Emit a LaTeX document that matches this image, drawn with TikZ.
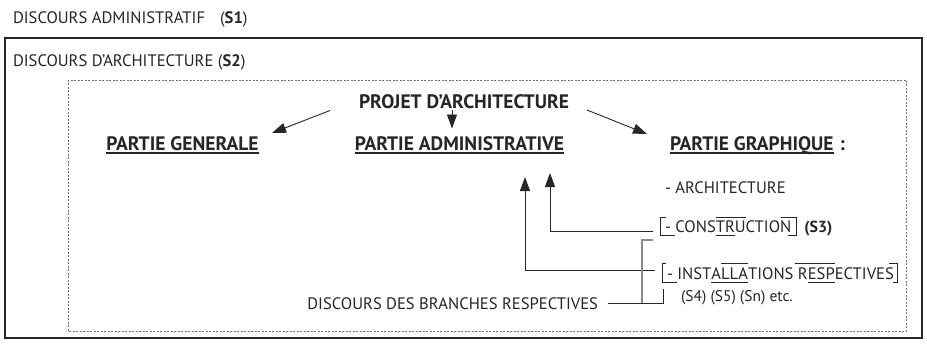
\documentclass[tikz,border=0pt]{standalone}
\usepackage{fontspec}
\setmainfont{PT Sans}
\usetikzlibrary{arrows.meta,calc}
\definecolor{ink}{HTML}{262626}
\definecolor{lgray}{HTML}{8A8A8A}
\definecolor{dgray}{HTML}{6E6E6E}
\begin{document}
\begin{tikzpicture}[x=1pt,y=-1pt,
  txt/.style={inner sep=0pt, outer sep=0pt, text=ink, font=\fontsize{16.6}{19}\selectfont},
  txtb/.style={inner sep=0pt, outer sep=0pt, text=ink, font=\fontsize{16}{19}\selectfont\bfseries},
  hd/.style={inner sep=0pt, outer sep=0pt, text=ink, font=\fontsize{19.5}{22}\selectfont\bfseries},
  small/.style={inner sep=0pt, outer sep=0pt, text=ink, font=\fontsize{15.5}{18}\selectfont},
  arr/.style={draw=ink, line width=0.9pt, -{Triangle[length=14pt,width=10pt]}},
  conn/.style={draw=ink, line width=0.9pt},
  branch/.style={draw=lgray, line width=1.1pt},
  brk/.style={draw=ink, line width=0.8pt},
  ul/.style={draw=ink, line width=1.5pt},
  outerbox/.style={draw=ink, line width=1.6pt},
  dotbox/.style={draw=dgray, line width=0.7pt, dash pattern=on 2pt off 1.5pt},
]
\fill[white] (0,0) rectangle (927,345);
\useasboundingbox (0,0) rectangle (927,345);

% frames
\node[txt, anchor=base west] (s1) at (13,23.3) {DISCOURS ADMINISTRATIF\hspace{15pt}(\textbf{S1})};
\draw[outerbox] (5,38) rectangle (922,338);
\node[txt, anchor=base west] (s2) at (13,66.5) {DISCOURS D’ARCHITECTURE (\textbf{S2})};
\draw[dotbox] (68,80) rectangle (906,331);

% headings
\node[hd, anchor=base] (projet) at (464,108.5) {PROJET D’ARCHITECTURE};
\node[hd, anchor=base] (gen) at (182.5,150) {PARTIE GENERALE};
\node[hd, anchor=base] (adm) at (459.5,150) {PARTIE ADMINISTRATIVE};
\node[hd, anchor=base west] (graph) at (670,150) {PARTIE GRAPHIQUE};
\node[hd, anchor=base west] (colon) at ([xshift=6pt]graph.base east) {:};
\foreach \n in {gen,adm,graph}
  \draw[ul] ([yshift=-3pt]\n.base west) -- ([yshift=-3pt]\n.base east);

% arrows from the project
\coordinate (a1s) at (330,110.5); \coordinate (a1e) at (272,133);
\coordinate (a2s) at (452,110);   \coordinate (a2e) at (452,128.5);
\coordinate (a3s) at (587,110);   \coordinate (a3e) at (647,134);
\draw[arr] (a1s) -- (a1e);
\draw[arr] (a2s) -- (a2e);
\draw[arr] (a3s) -- (a3e);

% graphic part list
\node[txt, anchor=base west] (archi) at (665,193.5) {- ARCHITECTURE};

% CONSTRUCTION
\node[txt, anchor=base west] (c1) at (665,232) {- CONS};
\node[txt, anchor=base west] (c2) at (c1.base east) {TR};
\node[txt, anchor=base west] (c3) at (c2.base east) {U};
\node[txt, anchor=base west] (c4) at (c3.base east) {CTION};
\node[txtb, anchor=base west] (s3) at ([xshift=13pt]c4.base east) {(S3)};
\coordinate (ctop) at (0,217); \coordinate (cbot) at (0,235);
\draw[brk] ($(c1.base west |- ctop)+(1,0)$) -- ($(c1.base west |- ctop)+(-5,0)$)
  -- ($(c1.base west |- cbot)+(-5,0)$) -- ($(c1.base west |- cbot)+(10,0)$);
\draw[brk] (c2.base west |- ctop) -- (c3.base east |- ctop);
\draw[brk] (c2.base west |- cbot) -- (c2.base east |- cbot);
\draw[brk] ($(c4.base east |- ctop)+(-10,0)$) -- ($(c4.base east |- ctop)+(5,0)$)
  -- ($(c4.base east |- cbot)+(5,0)$) -- ($(c4.base east |- cbot)+(-3,0)$);

% INSTALLATIONS RESPECTIVES
\node[txt, anchor=base west] (i1) at (667,279) {- INST};
\node[txt, anchor=base west] (i2) at (i1.base east) {A};
\node[txt, anchor=base west] (i3) at (i2.base east) {LLA};
\node[txt, anchor=base west] (i4) at (i3.base east) {TIONS\ \null};
\node[txt, anchor=base west] (i5) at (i4.base east) {R};
\node[txt, anchor=base west] (i6) at (i5.base east) {ESP};
\node[txt, anchor=base west] (i7) at (i6.base east) {ECTIVES};
\coordinate (itop) at (0,263); \coordinate (ibot) at (0,282.5);
\draw[brk] ($(i1.base west |- itop)+(-1,0)$) -- ($(i1.base west |- itop)+(-5,0)$)
  -- ($(i1.base west |- ibot)+(-5,0)$) -- ($(i1.base west |- ibot)+(10,0)$);
\draw[brk] (i3.base west |- itop) -- (i3.base east |- itop);
\draw[brk] (i2.base west |- ibot) -- (i3.base east |- ibot);
\draw[brk] ($(i5.base west |- itop)+(-3,0)$) -- (i6.base east |- itop);
\draw[brk] (i6.base west |- ibot) -- (i6.base east |- ibot);
\draw[brk] ($(i7.base east |- itop)+(-5,0)$) -- ($(i7.base east |- itop)+(3,0)$)
  -- ($(i7.base east |- ibot)+(3,0)$) -- ($(i7.base east |- ibot)+(-1,0)$);

% arrows up to the administrative part
\coordinate (up1) at (550,173);
\coordinate (up2) at (525,177);
\draw[arr] ($(c1.base west)+(-12,-1)$) -| (up1);
\draw[arr] ($(i1.base west)+(-12,-9)$) -| (up2);

% branches
\node[txt, anchor=base east] (br) at (598,309) {DISCOURS DES BRANCHES RESPECTIVES};
\node[small, anchor=base west] (sn) at (681,301) {(S4) (S5) (Sn) etc.};
\coordinate (jx) at (642,0); \coordinate (hx) at (663,0);
\draw[branch] ($(c1.base west)+(-12,8)$) -| (br.east -| jx);
\draw[conn] ([xshift=10pt]br.east) -- (br.east -| hx) -- ++(0,-14);
\end{tikzpicture}
\end{document}
